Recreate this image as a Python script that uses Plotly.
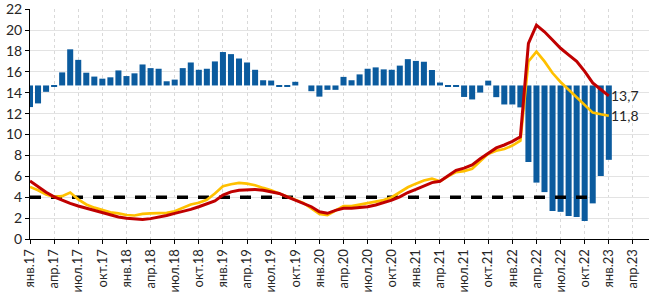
import plotly.graph_objects as go

# ---------------- data ----------------
tick_labels = ["янв.17", "апр.17", "июл.17", "окт.17",
               "янв.18", "апр.18", "июл.18", "окт.18",
               "янв.19", "апр.19", "июл.19", "окт.19",
               "янв.20", "апр.20", "июл.20", "окт.20",
               "янв.21", "апр.21", "июл.21", "окт.21",
               "янв.22", "апр.22", "июл.22", "окт.22",
               "янв.23", "апр.23"]

# bar tips (on the left axis scale), bars hang from BAR_BASE
bar_tips = [12.63, 12.98, 14.09, 14.60, 15.95, 18.16, 17.15, 15.92, 15.55, 15.35, 15.48, 16.14,
            15.60, 15.86, 16.71, 16.36, 16.30, 15.10, 15.26, 16.36, 16.90, 16.20, 16.30, 17.00,
            17.90, 17.70, 17.28, 16.90, 16.20, 15.20, 15.17, 14.60, 14.62, 15.05, 14.70, 14.15,
            13.63, 14.28, 14.28, 15.52, 15.20, 15.76, 16.30, 16.43, 16.24, 16.20, 16.60, 17.22,
            17.05, 16.97, 16.18, 14.98, 14.62, 14.62, 13.60, 13.36, 14.02, 15.16, 13.58, 12.88,
            12.88, 12.60, 7.37, 5.40, 4.49, 2.68, 2.60, 2.20, 2.11, 1.73, 3.41, 6.03,
            7.58]

red_series = [5.55, 4.99, 4.48, 4.04, 3.72, 3.41, 3.16, 2.94, 2.71, 2.49, 2.30, 2.11,
              1.99, 1.90, 1.86, 1.95, 2.08, 2.25, 2.45, 2.63, 2.84, 3.09, 3.38, 3.65,
              4.20, 4.51, 4.67, 4.74, 4.74, 4.67, 4.51, 4.36, 4.04, 3.72, 3.47, 3.09,
              2.60, 2.46, 2.74, 2.94, 2.94, 3.00, 3.09, 3.25, 3.47, 3.72, 4.04, 4.45,
              4.75, 5.08, 5.40, 5.52, 6.09, 6.57, 6.79, 7.10, 7.68, 8.20, 8.72, 9.00,
              9.35, 9.79, 18.73, 20.47, 19.84, 19.05, 18.26, 17.63, 17.00, 16.05, 14.94, 14.31,
              13.70]

yellow_series = [4.99, 4.67, 4.25, 4.04, 4.10, 4.45, 3.80, 3.31, 3.00, 2.75, 2.55, 2.45,
                 2.30, 2.25, 2.40, 2.46, 2.49, 2.50, 2.65, 2.95, 3.30, 3.47, 3.75, 4.35,
                 5.05, 5.24, 5.37, 5.30, 5.15, 4.89, 4.67, 4.36, 4.04, 3.72, 3.45, 2.94,
                 2.40, 2.30, 2.71, 3.15, 3.15, 3.31, 3.47, 3.56, 3.72, 4.00, 4.45, 4.95,
                 5.30, 5.60, 5.78, 5.52, 6.00, 6.41, 6.50, 6.73, 7.45, 8.15, 8.45, 8.62,
                 8.94, 9.41, 17.00, 17.94, 17.00, 15.89, 15.03, 14.31, 13.58, 12.80, 12.10, 11.94,
                 11.80]

target_series = [4.0] * 71   # target line, Jan 2017 – Nov 2022

end_labels = ["13,7", "11,8"]

y_ticks = [0, 2, 4, 6, 8, 10, 12, 14, 16, 18, 20, 22]

# ---------------- styles ----------------
BAR_BASE = 14.7
BAR_COLOR = "#0B5B9E"
RED = "#C00000"
YELLOW = "#FFC000"
FONT = "Lato, 'Open Sans', sans-serif"
TXT = "#262626"

n = len(bar_tips)
xs = list(range(n))

fig = go.Figure()
fig.add_trace(go.Bar(
    x=xs, y=[v - BAR_BASE for v in bar_tips], base=BAR_BASE,
    marker=dict(color=BAR_COLOR, line=dict(width=0)), width=0.75,
    hoverinfo="skip", showlegend=False))
fig.add_trace(go.Scatter(
    x=list(range(len(target_series))), y=target_series, mode="lines",
    line=dict(color="black", width=3.5, dash="11px,10px"), showlegend=False))
fig.add_trace(go.Scatter(
    x=xs, y=yellow_series, mode="lines",
    line=dict(color=YELLOW, width=2.7), showlegend=False))
fig.add_trace(go.Scatter(
    x=xs, y=red_series, mode="lines",
    line=dict(color=RED, width=3), showlegend=False))

for txt, yv in zip(end_labels, [red_series[-1], yellow_series[-1]]):
    fig.add_annotation(x=xs[-1], y=yv, text=txt, showarrow=False,
                       xanchor="left", yanchor="middle", xshift=0,
                       font=dict(family=FONT, size=14, color=TXT))

fig.update_layout(
    width=649, height=296,
    margin=dict(l=30, r=0, t=7, b=57),
    paper_bgcolor="white", plot_bgcolor="white",
    bargap=0.25, showlegend=False,
    font=dict(family=FONT, color=TXT),
)
fig.update_xaxes(
    range=[0, 77], tickmode="array",
    tickvals=list(range(0, 3 * len(tick_labels), 3)), ticktext=tick_labels,
    tickangle=-90, tickfont=dict(family=FONT, size=13, color=TXT),
    showline=True, linecolor="black", linewidth=1,
    ticks="outside", ticklen=4, tickcolor="black",
    showgrid=True, gridcolor="#D9D9D9", griddash="dot", gridwidth=1,
    zeroline=False,
)
fig.update_yaxes(
    range=[0, 22.02], tickmode="array", tickvals=y_ticks,
    ticktext=[str(v) for v in y_ticks], ticklabeloverflow="allow",
    tickfont=dict(family=FONT, size=14, color=TXT),
    showline=True, linecolor="black", linewidth=1,
    ticks="outside", ticklen=4, tickcolor="black",
    showgrid=True, gridcolor="#E3E3E3", gridwidth=1,
    zeroline=False,
)

fig.write_html("out.html", config={"displayModeBar": False},
               post_script="document.body.style.margin='0px';")
